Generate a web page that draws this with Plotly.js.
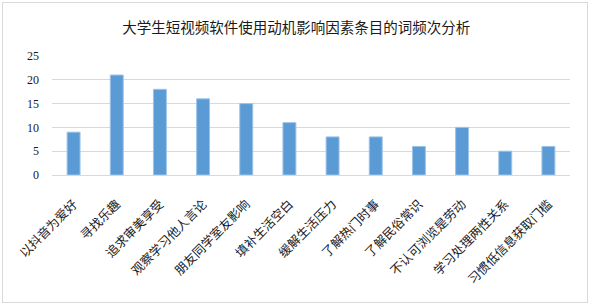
<!DOCTYPE html>
<html><head><meta charset="utf-8">
<script src="https://cdn.plot.ly/plotly-3.0.1.min.js"></script>
<style>html,body{margin:0;padding:0;background:#fff;}
#wrap{position:relative;width:595px;height:308px;}
#chart{width:595px;height:308px;}
#frame{position:absolute;left:2px;top:2px;width:586px;height:301px;border:1px solid #d9d9d9;pointer-events:none;box-sizing:border-box;}
</style></head>
<body><div id="wrap"><div id="chart"></div><div id="frame"></div></div>
<script>
const categories = ["以抖音为爱好","寻找乐趣","追求审美享受","观察学习他人言论","朋友同学室友影响","填补生活空白","缓解生活压力","了解热门时事","了解民俗常识","不认可浏览是劳动","学习处理两性关系","习惯低信息获取门槛"];
const counts = [9,21,18,16,15,11,8,8,6,10,5,6];
const yTicks = [0,5,10,15,20,25];
const titleText = "大学生短视频软件使用动机影响因素条目的词频次分析";

Plotly.newPlot('chart', [{
  type:'bar', x:categories, y:counts, width:0.3,
  marker:{color:'#5B9BD5', line:{color:'#9DC3E6', width:1}},
  hoverinfo:'skip'
}], {
  width:595, height:308,
  margin:{l:52, r:25, t:56, b:133},
  paper_bgcolor:'#fff', plot_bgcolor:'#fff',
  title:{text:titleText, x:0.498, xanchor:'center', xref:'container', y:26, yref:'container', yanchor:'middle',
    font:{family:'"Noto Sans CJK SC", sans-serif', size:14.5, color:'#1a1a1a'}},
  xaxis:{tickangle:-45, tickfont:{family:'"Noto Sans CJK SC", sans-serif', size:12.5, color:'#1a1a1a'},
    ticks:'outside', ticklen:16, tickcolor:'rgba(0,0,0,0)',
    showgrid:false, showline:true, linecolor:'#d9d9d9', linewidth:1, zeroline:false, fixedrange:true},
  yaxis:{range:[0,25], tickvals:yTicks, ticktext:yTicks.map(String), showgrid:true, gridcolor:'#d9d9d9', gridwidth:1,
    ticklabelstandoff:12,
    tickfont:{family:'"Liberation Serif", serif', size:12, color:'#1a1a1a'}, zeroline:false, showline:false, ticks:'', ticklen:0, fixedrange:true},
  showlegend:false, bargap:0.7
}, {displayModeBar:false, staticPlot:true});
</script></body></html>
